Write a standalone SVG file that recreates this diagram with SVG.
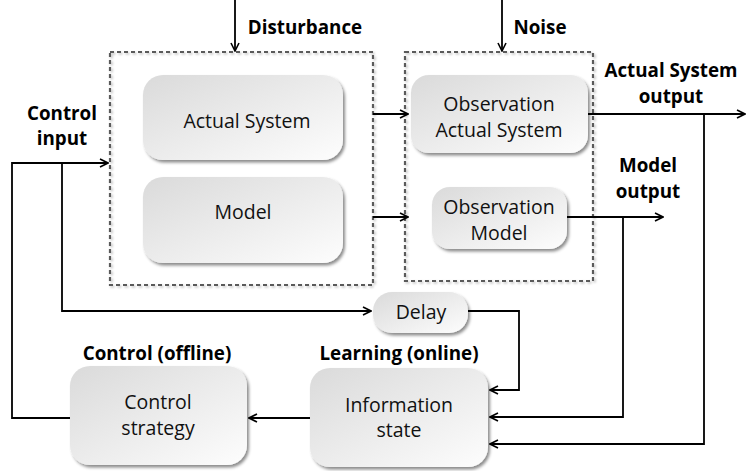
<svg xmlns="http://www.w3.org/2000/svg" width="746" height="471" viewBox="0 0 746 471">
<defs>
<linearGradient id="g" x1="0" y1="0" x2="1" y2="1">
<stop offset="0" stop-color="#dadada"/>
<stop offset="1" stop-color="#fdfdfd"/>
</linearGradient>
<filter id="sh" x="-10%" y="-10%" width="130%" height="140%">
<feDropShadow dx="2" dy="2.5" stdDeviation="1.5" flood-color="#000" flood-opacity="0.45"/>
</filter>
<filter id="dsh" x="-5%" y="-5%" width="110%" height="110%">
<feDropShadow dx="1.5" dy="1.5" stdDeviation="1" flood-color="#000" flood-opacity="0.25"/>
</filter>
<marker id="ah" viewBox="0 0 10 10" refX="9" refY="5" markerWidth="10" markerHeight="10" markerUnits="userSpaceOnUse" orient="auto">
<path d="M1,1 L9,5 L1,9" fill="none" stroke="#000" stroke-width="1.6"/>
</marker>
</defs>
<style>
.node rect{fill:url(#g);filter:url(#sh);}
.t{font-family:"Open Sans","Lato",sans-serif;font-size:19.5px;fill:#111;text-anchor:middle;}
.b{font-family:"Open Sans","Lato",sans-serif;font-size:18.8px;font-weight:bold;fill:#000;text-anchor:middle;}
.dash{fill:none;stroke:#5a5a5a;stroke-width:2.2;stroke-dasharray:4 3;filter:url(#dsh);}
.c{fill:none;stroke:#000;stroke-width:1.8;marker-end:url(#ah);}
</style>
<rect width="746" height="471" fill="#fff"/>
<g id="groups">
<rect class="dash" x="110" y="52" width="263" height="233"/>
<rect class="dash" x="405" y="52" width="188" height="229"/>
</g>
<g id="connectors">
<path class="c" d="M235,0 V51"/>
<path class="c" d="M502,0 V51"/>
<path class="c" d="M70,418 H12 V163 H108"/>
<path class="c" d="M62,163 V311 H371"/>
<path class="c" d="M373,114 H408"/>
<path class="c" d="M373,217 H408"/>
<path class="c" d="M588,114 H745"/>
<path class="c" d="M704,114 V444 H490"/>
<path class="c" d="M567,217 H663"/>
<path class="c" d="M623,217 V417 H490"/>
<path class="c" d="M468,311 H519 V390 H490"/>
<path class="c" d="M310,418 H249"/>
</g>
<g id="n-actual" class="node">
<rect x="143" y="75" width="200" height="85" rx="20"/>
<text class="t" x="247" y="128">Actual System</text>
</g>
<g id="n-model" class="node">
<rect x="143" y="177" width="200" height="86" rx="20"/>
<text class="t" x="243" y="219">Model</text>
</g>
<g id="n-obs-actual" class="node">
<rect x="411" y="75" width="177" height="78" rx="18"/>
<text class="t" x="499" y="111">Observation</text>
<text class="t" x="499" y="137">Actual System</text>
</g>
<g id="n-obs-model" class="node">
<rect x="432" y="187" width="135" height="62" rx="18"/>
<text class="t" x="499" y="214">Observation</text>
<text class="t" x="499" y="240">Model</text>
</g>
<g id="n-delay" class="node">
<rect x="373" y="292" width="95" height="41" rx="19"/>
<text class="t" x="421" y="319">Delay</text>
</g>
<g id="n-control" class="node">
<rect x="70" y="366" width="177" height="99" rx="20"/>
<text class="t" x="158" y="409">Control</text>
<text class="t" x="158" y="435">strategy</text>
</g>
<g id="n-info" class="node">
<rect x="310" y="368" width="178" height="99" rx="20"/>
<text class="t" x="399" y="412">Information</text>
<text class="t" x="399" y="437">state</text>
</g>
<g id="labels">
<text class="b" x="305" y="34">Disturbance</text>
<text class="b" x="540" y="34">Noise</text>
<text class="b" x="671" y="77">Actual System</text>
<text class="b" x="671" y="103">output</text>
<text class="b" x="62" y="120">Control</text>
<text class="b" x="62" y="145">input</text>
<text class="b" x="648" y="172">Model</text>
<text class="b" x="648" y="198">output</text>
<text class="b" x="157" y="360">Control (offline)</text>
<text class="b" x="399" y="360">Learning (online)</text>
</g>
</svg>
